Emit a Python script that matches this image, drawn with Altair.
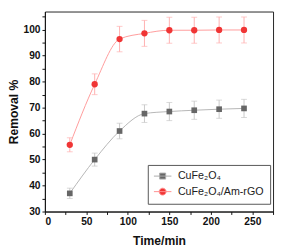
import altair as alt
import pandas as pd

time = [30, 60, 90, 120, 150, 180, 210, 240]
cufe = [37.0, 50.0, 61.0, 67.7, 68.5, 69.0, 69.4, 69.7]
cufe_err = [2.0, 2.5, 3.0, 3.4, 3.5, 3.5, 3.5, 3.5]
rgo = [55.7, 79.0, 96.4, 98.6, 99.8, 99.8, 99.9, 99.9]
rgo_err = [2.7, 4.0, 4.9, 5.0, 5.0, 5.0, 5.0, 5.0]
series = ["CuFe₂O₄", "CuFe₂O₄/Am-rGO"]

rows = []
for name, vals, errs in [(series[0], cufe, cufe_err), (series[1], rgo, rgo_err)]:
    for t, v, e in zip(time, vals, errs):
        rows.append({"t": t, "v": v, "lo": v - e, "hi": v + e, "s": name})
df = pd.DataFrame(rows)

FONT = "Liberation Sans"
xs = alt.Scale(domain=[0, 275], nice=False)
ys = alt.Scale(domain=[30, 107], nice=False)

marker_cols = ["#666666", "#f03535"]
line_cols = ["#b5b5b5", "#ff9a9a"]
err_cols = ["#c8c8c8", "#ffb0b0"]
shapes = ["square", "circle"]
sizes = [34, 42]

xaxis = alt.Axis(values=list(range(0, 276, 25)),
                 labelExpr="datum.value % 50 == 0 ? datum.label : ''",
                 labelOverlap=False, title="Time/min", grid=False)
yaxis = alt.Axis(values=list(range(30, 106, 5)),
                 labelExpr="datum.value % 10 == 0 ? datum.label : ''",
                 labelOverlap=False, labelSeparation=0, title="Removal %", grid=False)

first = series[0]
sq_path = "M-1.1,0H2.7M0.15,-0.65H1.45V0.65H0.15Z"
ci_path = "M-1.1,0H2.7M0.05,0A0.75,0.75 0 1,0 1.55,0A0.75,0.75 0 1,0 0.05,0Z"

legend = alt.Legend(
    title=None, orient="none", legendX=106, legendY=158,
    strokeColor="#555555", padding=6, fillColor="white",
    labelFont=FONT, labelFontSize=11, labelColor="#222222",
    symbolSize=90, symbolStrokeWidth=1, rowPadding=4, labelOffset=14,
    symbolType={"expr": f"datum.value == '{first}' ? '{sq_path}' : '{ci_path}'"},
    symbolStrokeColor={"expr": f"datum.value == '{first}' ? '#aaaaaa' : '#ff8f8f'"},
)

layers = []
for i, name in enumerate(series):
    b = alt.Chart(df).transform_filter(alt.datum.s == name)
    layers.append(b.mark_line(interpolate="monotone", strokeWidth=1, color=line_cols[i]).encode(
        x=alt.X("t:Q", scale=xs, axis=xaxis), y=alt.Y("v:Q", scale=ys, axis=yaxis)))
    layers.append(b.mark_rule(strokeWidth=1, color=err_cols[i]).encode(
        x=alt.X("t:Q", scale=xs, axis=xaxis), y=alt.Y("lo:Q", scale=ys, axis=yaxis), y2="hi:Q"))
    layers.append(b.mark_tick(size=6, thickness=1, orient="horizontal", color=err_cols[i]).encode(
        x=alt.X("t:Q", scale=xs, axis=xaxis), y=alt.Y("lo:Q", scale=ys, axis=yaxis)))
    layers.append(b.mark_tick(size=6, thickness=1, orient="horizontal", color=err_cols[i]).encode(
        x=alt.X("t:Q", scale=xs, axis=xaxis), y=alt.Y("hi:Q", scale=ys, axis=yaxis)))

for i, name in enumerate(series):
    b = alt.Chart(df).transform_filter(alt.datum.s == name)
    layers.append(b.mark_point(filled=True, opacity=1, shape=shapes[i], size=sizes[i]).encode(
        x=alt.X("t:Q", scale=xs, axis=xaxis), y=alt.Y("v:Q", scale=ys, axis=yaxis),
        color=alt.Color("s:N", scale=alt.Scale(domain=series, range=marker_cols), legend=legend)))

chart = alt.layer(*layers).properties(
    width=235, height=206,
    autosize=alt.AutoSizeParams(type="none"),
    padding={"left": 38, "top": 0, "right": 2, "bottom": 37},
).configure_view(
    stroke="#222222", strokeWidth=1
).configure_axis(
    labelFont=FONT, labelFontSize=10.5, labelFontWeight="bold", labelColor="#111111",
    titleFont=FONT, titleFontSize=12.5, titleFontWeight="bold", titleColor="#111111",
    domainColor="#111111", tickColor="#111111", tickSize=3, labelPadding=2,
    labelOverlap=False,
).configure_axisX(titlePadding=8).configure_axisY(titlePadding=3, labelOverlap=False)

chart.save("out.html", embed_options={"renderer": "svg", "actions": False})
